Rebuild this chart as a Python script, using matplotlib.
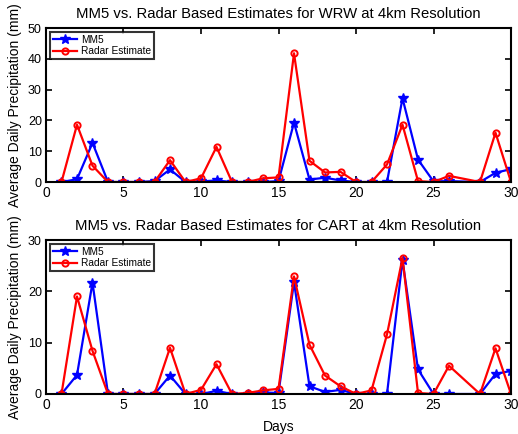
"""
MM5 vs. radar based precipitation estimates for WRW and CART (4km)
"""
import numpy as np
import matplotlib
matplotlib.use('Agg')
import matplotlib.pyplot as plt

plt.rcParams['font.family'] = ['Liberation Sans', 'DejaVu Sans']

# Days (day 27 is missing from the record)
days = [1, 2, 3, 4, 5, 6, 7, 8, 9, 10, 11, 12, 13, 14, 15,
        16, 17, 18, 19, 20, 21, 22, 23, 24, 25, 26, 28, 29, 30]

# WRW
wrw_mm5 = [0, 0.9, 12.7, 0, 0, 0, 0.3, 4.1, 0, 0.2, 0.5, 0, 0, 0, 0.3,
           19.3, 0.8, 1.4, 0.5, 0, 0, 0, 27.2, 7.3, 0.2, 0.3, 0, 3.0, 4.2]
wrw_radar = [0, 18.6, 5.3, 0, 0, 0, 0, 7.1, 0, 1.2, 11.4, 0, 0, 1.2, 1.5,
             41.8, 6.9, 3.1, 3.3, 0, 0, 5.7, 18.6, 0.3, 0, 2.0, 0, 16.0, 0]

# CART
cart_mm5 = [0, 3.7, 21.7, 0, 0, 0, 0, 3.6, 0, 0, 0.6, 0, 0, 0.3, 0.2,
            21.8, 1.5, 0.4, 0.8, 0, 0, 0, 26.1, 4.8, 0, 0, 0, 3.9, 4.5]
cart_radar = [0, 19.0, 8.4, 0, 0, 0, 0, 9.0, 0, 0.8, 5.8, 0, 0.2, 0.7, 1.0,
              22.9, 9.6, 3.6, 1.5, 0, 0.7, 11.6, 26.5, 0.2, 0, 5.5, 0, 8.9, 0]

panels = [
    ('MM5 vs. Radar Based Estimates for WRW at 4km Resolution', wrw_mm5, wrw_radar, 50),
    ('MM5 vs. Radar Based Estimates for CART at 4km Resolution', cart_mm5, cart_radar, 30),
]

fig = plt.figure(figsize=(5.18, 4.34), dpi=100)
positions = [[0.0888, 0.5806, 0.8977, 0.3548],
             [0.0888, 0.0922, 0.8977, 0.3548]]

for pos, (title, mm5, radar, ymax) in zip(positions, panels):
    ax = fig.add_axes(pos)
    ax.plot(days, mm5, color='blue', linewidth=1.6, marker='*', markersize=7,
            markeredgewidth=1.0, label='MM5')
    ax.plot(days, radar, color='red', linewidth=1.6, marker='o', markersize=4.5,
            markerfacecolor='none', markeredgewidth=1.4, label='Radar Estimate')

    ax.set_xlim(0, 30)
    ax.set_ylim(0, ymax)
    ax.set_xticks(np.arange(0, 31, 5))
    ax.set_yticks(np.arange(0, ymax + 1, 10))
    ax.tick_params(direction='in', top=True, right=True, length=4, width=1.2, pad=3)
    ax.tick_params(axis='x', labelsize=10)
    ax.tick_params(axis='y', labelsize=9)
    for spine in ax.spines.values():
        spine.set_linewidth(1.5)
    ax.set_title(title, fontsize=10.7, pad=7)
    ax.set_ylabel('Average Daily Precipitation (mm)', fontsize=10, labelpad=4)

    leg = ax.legend(loc='upper left', fontsize=7.3, frameon=True, fancybox=False,
                    borderaxespad=0.35, handlelength=2.4, borderpad=0.3,
                    labelspacing=0.15, handletextpad=0.4)
    leg.get_frame().set_edgecolor('black')
    leg.get_frame().set_linewidth(1.5)

    if ymax == 30:
        ax.set_xlabel('Days', fontsize=10, labelpad=6)

plt.savefig('out.png', dpi=100)
plt.close()
